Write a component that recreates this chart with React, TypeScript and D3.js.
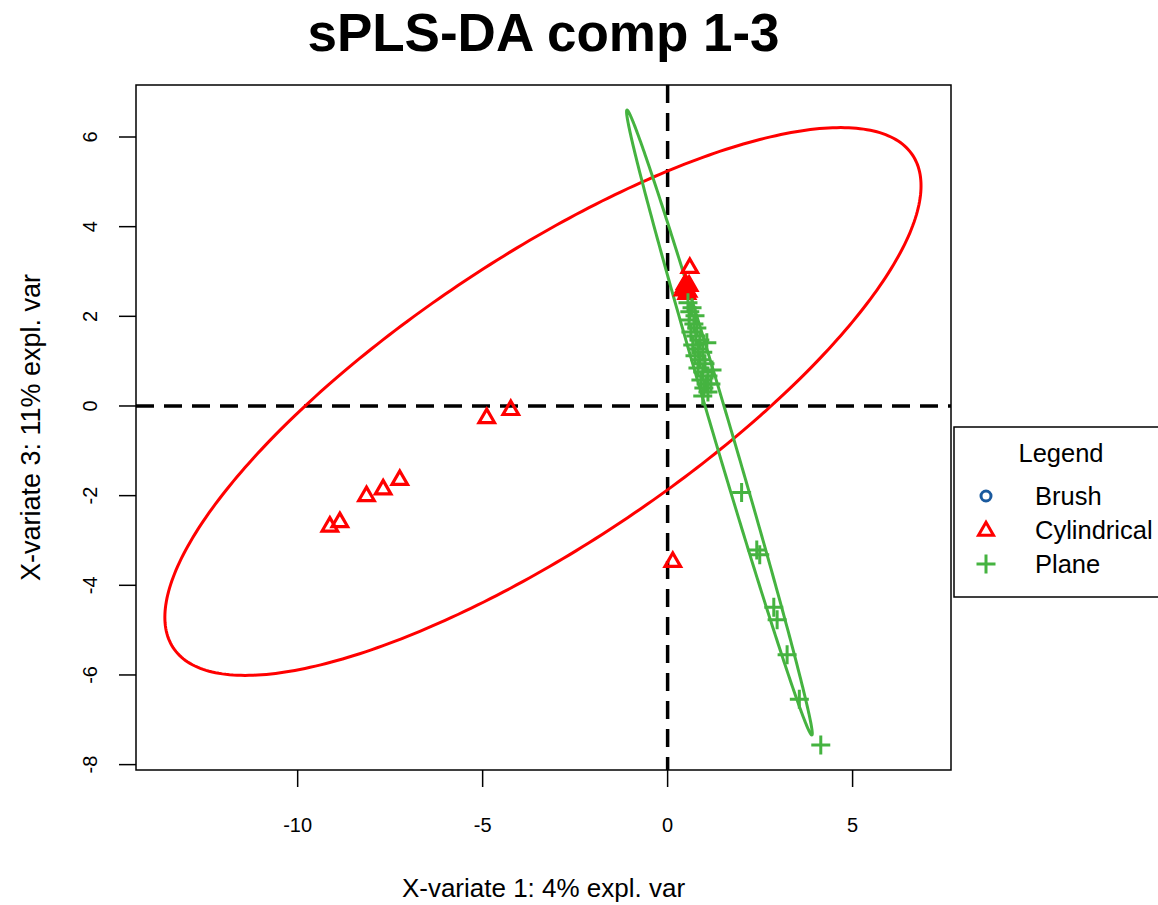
import React from "react";
import * as d3 from "d3";

const xTicks = [-10, -5, 0, 5];
const yTicks = [-8, -6, -4, -2, 0, 2, 4, 6];

const brushX = [0.47];
const brushY = [2.56];

const cylX = [-4.89, -4.24, -7.24, -7.69, -8.14, -8.86, -9.13, 0.14, 0.6, 0.45, 0.5, 0.55, 0.48, 0.52, 0.42, 0.58];
const cylY = [-0.27, -0.09, -1.65, -1.86, -2.01, -2.59, -2.69, -3.48, 3.08, 2.65, 2.6, 2.55, 2.72, 2.5, 2.58, 2.68];

const planeX = [0.55, 0.66, 0.6, 0.74, 0.58, 0.71, 0.79, 0.63, 0.76, 0.87, 0.68, 0.82, 0.95, 0.74, 0.87, 1.01, 0.82, 0.95, 1.09, 0.9, 1.04, 1.17, 0.98, 1.09, 0.95, 1.06, 1.2,
  2.0, 2.41, 2.49, 2.87, 2.96, 3.23, 3.56, 4.14];
const planeY = [2.3, 2.19, 2.1, 2.01, 1.92, 1.83, 1.74, 1.65, 1.56, 1.47, 1.36, 1.27, 1.2, 1.12, 1.03, 0.94, 0.85, 0.76, 0.67, 0.58, 0.49, 0.49, 0.4, 0.31, 0.22, 1.41, 0.8,
  -1.93, -3.21, -3.32, -4.49, -4.77, -5.55, -6.54, -7.56];

// ellipse parameters (data units): x = cx + rx cos t, y = cy + ry cos(t - phi)
const cylEllipse = [-3.37, 10.22, 0.1, 6.11, 0.664];
const planeEllipse = [1.4, 2.51, -0.37, 6.97, 3.0394];

const legendLabels = ["Brush", "Cylindrical", "Plane"];

const RED = "#FF0000";
const GREEN = "#45B340";
const BLUE = "#1A5A9E";
const FONT = "'Liberation Sans', Arial, Helvetica, sans-serif";

const W = 1158, H = 905;
const L = 136, R = 951, T = 85, B = 770;

const x = d3.scaleLinear().domain([-14.37, 7.66]).range([L, R]);
const y = d3.scaleLinear().domain([-8.12, 7.16]).range([B, T]);

function ellipsePath(p: number[]) {
  const [cx, rx, cy, ry, phi] = p;
  const pts: [number, number][] = d3.range(0, 361).map((i) => {
    const t = (i / 360) * Math.PI * 2;
    return [x(cx + rx * Math.cos(t)), y(cy + ry * Math.cos(t - phi))];
  });
  return d3.line()(pts) + "Z";
}

function tri(px: number, py: number, s: number) {
  const h = (s * Math.sqrt(3)) / 2;
  return `M${px},${py - (2 * h) / 3}L${px + s / 2},${py + h / 3}L${px - s / 2},${py + h / 3}Z`;
}
function plus(px: number, py: number, a: number) {
  return `M${px - a},${py}H${px + a}M${px},${py - a}V${py + a}`;
}

export default function App() {
  const legX = 986;
  const legY = [496, 530, 564];
  return (
    <svg width={W} height={H} style={{ position: "absolute", left: 0, top: 0, background: "#fff" }} fontFamily={FONT}>
      <defs>
        <clipPath id="plotclip">
          <rect x={L} y={T} width={R - L} height={B - T} />
        </clipPath>
      </defs>
      <rect x={0} y={0} width={W} height={H} fill="#fff" />
      <text x={(L + R) / 2} y={51} textAnchor="middle" fontSize={53} fontWeight="bold">sPLS-DA comp 1-3</text>

      <g clipPath="url(#plotclip)">
        <line x1={x(0)} x2={x(0)} y1={T} y2={B} stroke="#000" strokeWidth={3.5} strokeDasharray="18 10" />
        <line x1={L} x2={R} y1={y(0)} y2={y(0)} stroke="#000" strokeWidth={3.5} strokeDasharray="18 10" />
        <path d={ellipsePath(cylEllipse)} fill="none" stroke={RED} strokeWidth={3} />
        <path d={ellipsePath(planeEllipse)} fill="none" stroke={GREEN} strokeWidth={3} />
        {brushX.map((v, i) => (
          <circle key={"b" + i} cx={x(v)} cy={y(brushY[i])} r={5} fill="none" stroke={BLUE} strokeWidth={3} />
        ))}
        {cylX.map((v, i) => (
          <path key={"c" + i} d={tri(x(v), y(cylY[i]), 15.5)} fill="none" stroke={RED} strokeWidth={3.2} strokeLinejoin="miter" />
        ))}
        {planeX.map((v, i) => (
          <path key={"p" + i} d={plus(x(v), y(planeY[i]), 9.5)} fill="none" stroke={GREEN} strokeWidth={3} />
        ))}
      </g>

      <rect x={L} y={T} width={R - L} height={B - T} fill="none" stroke="#000" strokeWidth={1.5} />

      {xTicks.map((t) => (
        <g key={"xt" + t}>
          <line x1={x(t)} x2={x(t)} y1={B} y2={B + 17} stroke="#000" strokeWidth={1.5} />
          <text x={x(t)} y={832} textAnchor="middle" fontSize={20}>{t}</text>
        </g>
      ))}
      {yTicks.map((t) => (
        <g key={"yt" + t}>
          <line x1={L} x2={L - 17} y1={y(t)} y2={y(t)} stroke="#000" strokeWidth={1.5} />
          <text transform={`translate(97,${y(t)}) rotate(-90)`} textAnchor="middle" fontSize={20}>{t}</text>
        </g>
      ))}

      <text x={(L + R) / 2} y={897} textAnchor="middle" fontSize={26}>X-variate 1: 4% expl. var</text>
      <text transform={`translate(40,${(T + B) / 2}) rotate(-90)`} textAnchor="middle" fontSize={27}>X-variate 3: 11% expl. var</text>

      <rect x={954} y={427} width={230} height={170} fill="#fff" stroke="#000" strokeWidth={1.5} />
      <text x={1061} y={462} textAnchor="middle" fontSize={25.5}>Legend</text>
      {legendLabels.map((lab, i) => (
        <text key={lab} x={1035} y={legY[i] + 9} fontSize={25.5}>{lab}</text>
      ))}
      <circle cx={legX} cy={legY[0]} r={5} fill="none" stroke={BLUE} strokeWidth={3} />
      <path d={tri(legX, legY[1] + 1, 15)} fill="none" stroke={RED} strokeWidth={3} />
      <path d={plus(legX, legY[2], 9.5)} fill="none" stroke={GREEN} strokeWidth={3} />
    </svg>
  );
}
